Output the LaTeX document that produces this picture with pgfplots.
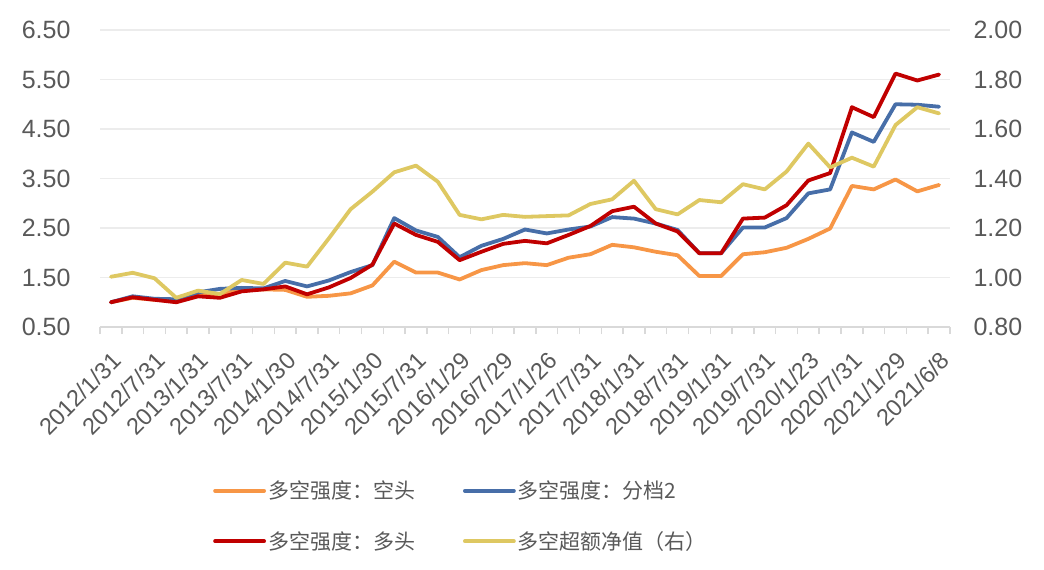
\documentclass[border=0pt]{standalone}
\usepackage{fontspec}
\setmainfont{Liberation Sans}
\newfontfamily\cjk{Noto Sans CJK SC}
\usepackage{pgfplots}
\usepackage{pgfplotstable}
\pgfplotsset{compat=1.18}
\definecolor{cOrange}{RGB}{247,150,70}
\definecolor{cBlue}{RGB}{71,110,168}
\definecolor{cRed}{RGB}{192,0,0}
\definecolor{cYellow}{RGB}{222,200,98}
\definecolor{tgray}{RGB}{89,89,89}
\definecolor{gridc}{RGB}{236,236,236}
\definecolor{axc}{RGB}{217,217,217}

\pgfplotstableread{
i o b r y
0 1.00 1.00 1.00 1.003
1 1.09 1.12 1.10 1.019
2 1.05 1.07 1.05 0.997
3 1.02 1.06 1.00 0.918
4 1.14 1.20 1.12 0.947
5 1.17 1.27 1.09 0.933
6 1.24 1.29 1.22 0.990
7 1.26 1.28 1.26 0.974
8 1.25 1.43 1.32 1.060
9 1.11 1.32 1.16 1.044
10 1.13 1.44 1.30 1.158
11 1.18 1.61 1.49 1.276
12 1.34 1.75 1.76 1.347
13 1.82 2.70 2.59 1.425
14 1.60 2.45 2.36 1.452
15 1.60 2.32 2.22 1.387
16 1.46 1.91 1.85 1.253
17 1.65 2.14 2.02 1.235
18 1.75 2.28 2.18 1.253
19 1.79 2.47 2.24 1.245
20 1.75 2.39 2.19 1.248
21 1.90 2.47 2.36 1.251
22 1.97 2.53 2.54 1.297
23 2.16 2.72 2.84 1.316
24 2.11 2.69 2.93 1.391
25 2.02 2.59 2.59 1.276
26 1.95 2.46 2.43 1.255
27 1.53 1.99 1.99 1.313
28 1.53 1.99 1.99 1.304
29 1.97 2.51 2.69 1.377
30 2.01 2.51 2.71 1.356
31 2.10 2.70 2.96 1.428
32 2.28 3.20 3.46 1.541
33 2.49 3.28 3.61 1.445
34 3.35 4.43 4.94 1.484
35 3.28 4.24 4.74 1.448
36 3.48 5.00 5.62 1.616
37 3.24 4.99 5.48 1.688
38 3.37 4.95 5.60 1.663
}\data

\pgfplotsset{
  common/.style={
    scale only axis, width=850pt, height=297pt,
    xmin=-0.5, xmax=38.5,
    tick label style={font=\fontsize{25}{29}\selectfont, text=tgray},
    yticklabel style={/pgf/number format/.cd, fixed, fixed zerofill, precision=2, assume math mode=true},
    ytick style={draw=none},
    y axis line style={draw=none},
  },
  ser/.style={line width=3.8pt, line join=round, line cap=round},
}

\begin{document}
\begin{tikzpicture}
\path[use as bounding box] (-100pt,-243pt) rectangle (944pt,327pt);
\begin{axis}[common,
  ymin=0.5, ymax=6.5,
  ytick={0.5,1.5,2.5,3.5,4.5,5.5,6.5},
  yticklabel shift=26pt,
  axis x line*=bottom, axis y line*=left,
  x axis line style={-, draw=axc, line width=1.5pt},
  ymajorgrids, grid style={draw=gridc, line width=1.5pt},
  xtick={0,2,...,38},
  xtick style={draw=none},
  xticklabels={2012/1/31,2012/7/31,2013/1/31,2013/7/31,2014/1/30,2014/7/31,2015/1/30,2015/7/31,2016/1/29,2016/7/29,2017/1/26,2017/7/31,2018/1/31,2018/7/31,2019/1/31,2019/7/31,2020/1/23,2020/7/31,2021/1/29,2021/6/8},
  xticklabel style={font=\fontsize{23.5}{27}\selectfont, rotate=45, anchor=north east, inner sep=1pt},
  xticklabel shift=22pt,
  extra x ticks={-0.5,0.5,...,38.5},
  extra x tick labels={},
  extra x tick style={grid=none, xtick style={draw=axc, line width=1.5pt}, major tick length=7pt, tick align=outside},
]
\addplot[ser, cOrange] table[x=i, y=o] {\data};
\addplot[ser, cBlue] table[x=i, y=b] {\data};
\addplot[ser, cRed] table[x=i, y=r] {\data};
\end{axis}
\begin{axis}[common,
  ymin=0.8, ymax=2.0,
  ytick={0.8,1.0,1.2,1.4,1.6,1.8,2.0},
  yticklabel shift=20pt,
  axis y line*=right, axis x line=none,
  legend columns=2,
  legend cell align=left,
  legend image code/.code={\draw[#1, line cap=round] (0pt,0pt) -- (49pt,0pt);},
  legend style={draw=none, fill=none, at={(113pt,-152pt)}, anchor=north west, inner sep=0pt,
    font=\cjk\fontsize{21}{25}\selectfont, text=tgray, row sep=27pt, column sep=0pt,
    /tikz/every even column/.append style={column sep=46pt}},
]
\addlegendimage{ser, cOrange}
\addlegendentry{多空强度：空头}
\addlegendimage{ser, cBlue}
\addlegendentry{多空强度：分档2}
\addlegendimage{ser, cRed}
\addlegendentry{多空强度：多头}
\addplot[ser, cYellow] table[x=i, y=y] {\data};
\addlegendentry{多空超额净值（右）}
\end{axis}
\end{tikzpicture}
\end{document}
